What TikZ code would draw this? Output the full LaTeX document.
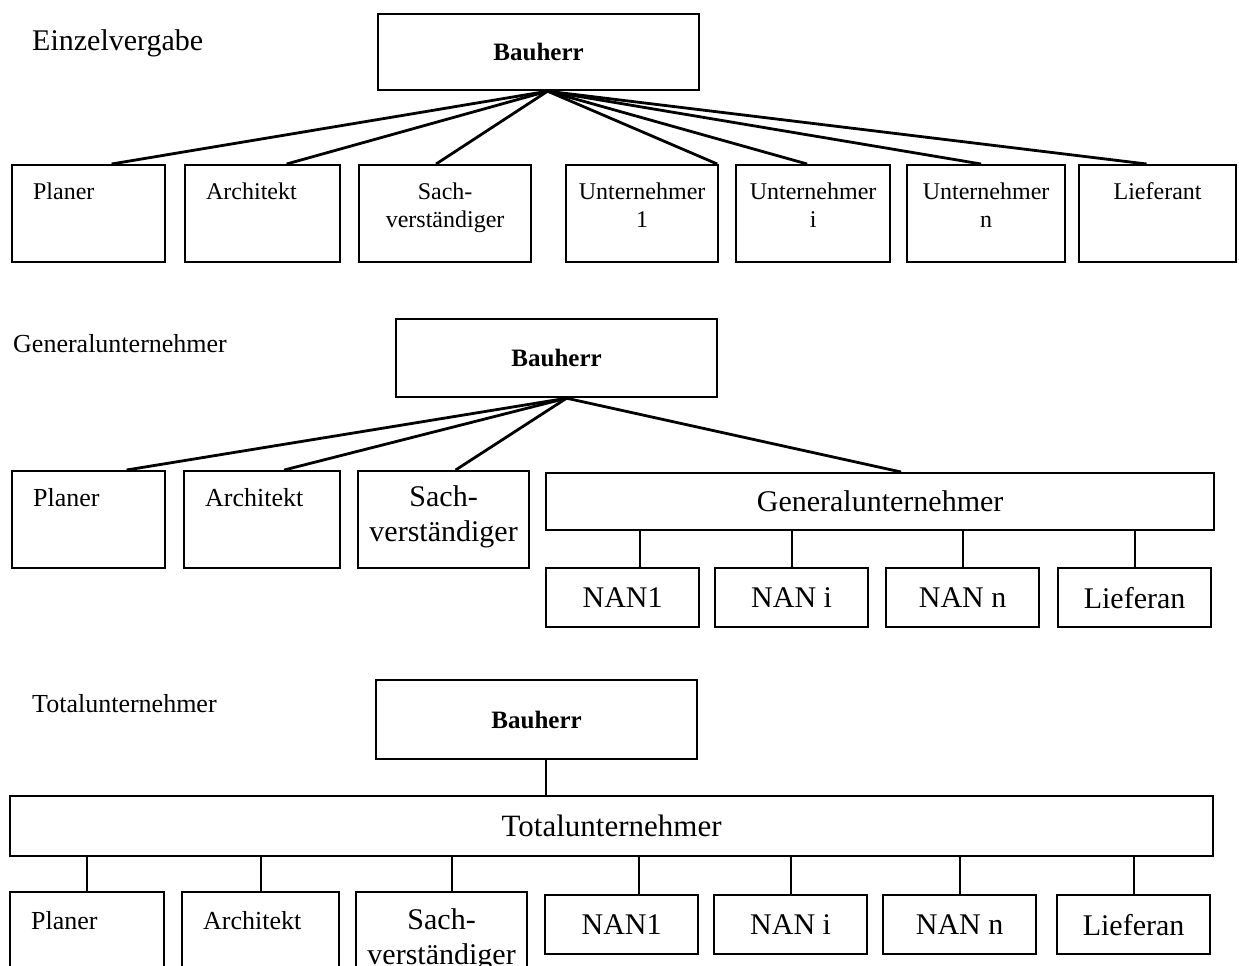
\documentclass[tikz,border=0pt]{standalone}
\usepackage{fontspec}
\setmainfont{Liberation Serif}
\usetikzlibrary{calc}

\begin{document}
\begin{tikzpicture}[x=1pt,y=-1pt]
\tikzstyle{every node}+=[inner sep=0pt]
\tikzstyle{box}=[draw=black, line width=2.2pt, align=center, anchor=north west]
\tikzstyle{lft}=[align=left, inner xsep=21pt]
\tikzstyle{sm}=[font=\fontsize{24}{28}\selectfont]
\tikzstyle{md}=[font=\fontsize{26}{31}\selectfont]
\tikzstyle{bg}=[font=\fontsize{30}{35}\selectfont]
\tikzstyle{bh}=[box, font=\fontsize{25}{30}\selectfont\bfseries, minimum width=321pt]
\tikzstyle{nan}=[box, bg, minimum width=153pt, minimum height=59pt]
\tikzstyle{link}=[black, line width=2.8pt]
\tikzstyle{stem}=[black, line width=2.2pt]
\useasboundingbox (0,0) rectangle (1239,966);
\clip (0,0) rectangle (1239,966);
% Einzelvergabe
\node[bg, anchor=base west] (titA) at (32,51) {Einzelvergabe};
\node[bh, minimum height=76pt] (bhA) at (377,13) {Bauherr};
\node[box, sm, lft, text width=111pt, text height=34pt, text depth=63pt] (plA) at (11,164) {Planer};
\node[box, sm, lft, text width=113pt, text height=34pt, text depth=63pt] (arA) at (184,164) {Architekt};
\node[box, sm, text width=172pt, text height=34pt, text depth=63pt] (saA) at (358,164) {Sach-\\verständiger};
\node[box, sm, text width=152pt, text height=34pt, text depth=63pt] (u1A) at (565,164) {Unternehmer\\1};
\node[box, sm, text width=154pt, text height=34pt, text depth=63pt] (uiA) at (735,164) {Unternehmer\\i};
\node[box, sm, text width=158pt, text height=34pt, text depth=63pt] (unA) at (906,164) {Unternehmer\\n};
\node[box, sm, text width=157pt, text height=34pt, text depth=63pt] (lfA) at (1078,164) {Lieferant};
\coordinate (hubA) at ($(bhA.south)+(9,0)$);
\draw[link] (hubA) -- ($(plA.north)+(23,0)$);
\draw[link] (hubA) -- ($(arA.north)+(24,0)$);
\draw[link] (hubA) -- ($(saA.north)+(-9,0)$);
\draw[link] (hubA) -- ($(u1A.north east)+(-2,0)$);
\draw[link] (hubA) -- ($(uiA.north)+(-6,0)$);
\draw[link] (hubA) -- ($(unA.north)+(-5,0)$);
\draw[link] (hubA) -- ($(lfA.north)+(-11,0)$);
% Generalunternehmer
\node[md, anchor=base west] (titB) at (13,352) {Generalunternehmer};
\node[bh, minimum height=78pt] (bhB) at (395,318) {Bauherr};
\node[box, md, lft, text width=111pt, text height=35pt, text depth=62pt] (plB) at (11,470) {Planer};
\node[box, md, lft, text width=114pt, text height=35pt, text depth=62pt] (arB) at (183,470) {Architekt};
\node[box, bg, text width=171pt, text height=35pt, text depth=62pt] (saB) at (357,470) {Sach-\\verständiger};
\node[box, bg, minimum width=668pt, minimum height=57pt] (guB) at (545,472) {Generalunternehmer};
\node[nan] (nan1B) at (545,567) {NAN1};
\node[nan] (niB) at (714,567) {NAN i};
\node[nan] (nnB) at (885,567) {NAN n};
\node[nan] (lfB) at (1057,567) {Lieferan};
\coordinate (hubB) at ($(bhB.south)+(10,0)$);
\draw[link] (hubB) -- ($(plB.north)+(38,0)$);
\draw[link] (hubB) -- ($(arB.north)+(22,0)$);
\draw[link] (hubB) -- ($(saB.north)+(12,0)$);
\draw[link] (hubB) -- ($(guB.north)+(21,0)$);
\draw[stem] ($(nan1B.north)+(17.5,0)$) -- ($(nan1B.north |- guB.south)+(17.5,0)$);
\draw[stem] (niB.north) -- (niB.north |- guB.south);
\draw[stem] (nnB.north) -- (nnB.north |- guB.south);
\draw[stem] (lfB.north) -- (lfB.north |- guB.south);
% Totalunternehmer
\node[md, anchor=base west] (titC) at (32,712) {Totalunternehmer};
\node[bh, minimum height=79pt] (bhC) at (375,679) {Bauherr};
\node[box, font=\fontsize{31}{36}\selectfont, minimum width=1203pt, minimum height=60pt] (tuC) at (9,795) {Totalunternehmer};
\node[box, md, lft, text width=112pt, text height=37pt, text depth=63pt] (plC) at (9,891) {Planer};
\node[box, md, lft, text width=115pt, text height=37pt, text depth=63pt] (arC) at (181,891) {Architekt};
\node[box, bg, text width=171pt, text height=37pt, text depth=63pt] (saC) at (355,891) {Sach-\\verständiger};
\node[nan] (nan1C) at (544,894) {NAN1};
\node[nan] (niC) at (713,894) {NAN i};
\node[nan] (nnC) at (882,894) {NAN n};
\node[nan] (lfC) at (1056,894) {Lieferan};
\draw[stem] ($(bhC.south)+(9.5,0)$) -- ($(bhC.south |- tuC.north)+(9.5,0)$);
\draw[stem] (plC.north) -- (plC.north |- tuC.south);
\draw[stem] (arC.north) -- (arC.north |- tuC.south);
\draw[stem] ($(saC.north)+(10.5,0)$) -- ($(saC.north |- tuC.south)+(10.5,0)$);
\draw[stem] ($(nan1C.north)+(17.5,0)$) -- ($(nan1C.north |- tuC.south)+(17.5,0)$);
\draw[stem] (niC.north) -- (niC.north |- tuC.south);
\draw[stem] (nnC.north) -- (nnC.north |- tuC.south);
\draw[stem] (lfC.north) -- (lfC.north |- tuC.south);
\end{tikzpicture}
\end{document}
